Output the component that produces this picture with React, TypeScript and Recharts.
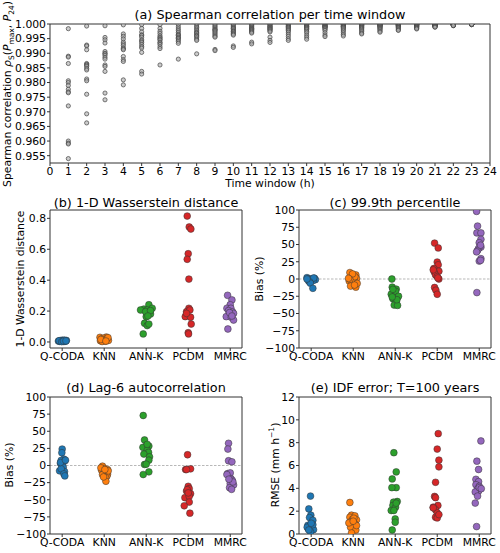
import React from 'react';
import { ScatterChart, Scatter, XAxis, YAxis, ReferenceLine } from 'recharts';

// figure: (a) spearman per time window, (b)-(e) strip plots per method
// ---------------------------------------------------------------------------

const FONT = '"DejaVu Sans", Verdana, sans-serif';
const SPINE = '#333';

/* ------------------------- (a) data ------------------------------------- */
const timeWindows = [
  1, 2, 3, 4, 5, 6, 7, 8, 9, 10, 11, 12, 13, 14, 15, 16, 17, 18, 19, 20, 21, 22, 23,
];
const hourTicks = [
  0, 1, 2, 3, 4, 5, 6, 7, 8, 9, 10, 11, 12, 13, 14, 15, 16, 17, 18, 19, 20, 21, 22, 23, 24,
];
const rhoTicks = [0.955, 0.96, 0.965, 0.97, 0.975, 0.98, 0.985, 0.99, 0.995, 1.0];

// one list per time window (one value per station)
const rhoByWindow: number[][] = [
  [0.9984, 0.989, 0.9887, 0.9865, 0.9806, 0.98, 0.979, 0.9777, 0.9768, 0.9765, 0.972, 0.96, 0.9593, 0.959, 0.954],
  [0.9993, 0.9928, 0.9925, 0.9912, 0.9865, 0.9862, 0.9859, 0.9855, 0.9848, 0.9843, 0.9812, 0.9806, 0.976, 0.9693, 0.9662],
  [0.9994, 0.9954, 0.9946, 0.9935, 0.9906, 0.99, 0.9898, 0.9893, 0.9886, 0.988, 0.986, 0.9855, 0.9838, 0.9764, 0.9741],
  [0.9997, 0.9966, 0.9958, 0.9949, 0.9938, 0.9932, 0.9926, 0.9918, 0.9915, 0.9912, 0.9889, 0.9878, 0.9872, 0.9809, 0.9792],
  [0.9998, 0.9985, 0.9973, 0.9963, 0.9961, 0.9955, 0.9946, 0.9942, 0.9937, 0.993, 0.9923, 0.9918, 0.9903, 0.9838, 0.9829],
  [0.9998, 0.9985, 0.9975, 0.9968, 0.996, 0.9955, 0.9952, 0.9948, 0.9945, 0.9938, 0.9935, 0.993, 0.9922, 0.9916, 0.986],
  [0.9998, 0.999, 0.9983, 0.9977, 0.9971, 0.9965, 0.9962, 0.996, 0.9955, 0.9952, 0.995, 0.9945, 0.994, 0.9934, 0.988],
  [0.9999, 0.9993, 0.9988, 0.9983, 0.9978, 0.9973, 0.997, 0.9968, 0.9963, 0.996, 0.9958, 0.9953, 0.9948, 0.9944, 0.9898],
  [0.9999, 0.9994, 0.999, 0.9986, 0.9982, 0.998, 0.9978, 0.9974, 0.997, 0.9966, 0.9962, 0.9958, 0.9955, 0.9913, 0.9909],
  [0.9999, 0.9995, 0.9991, 0.9988, 0.9985, 0.9984, 0.998, 0.9976, 0.9975, 0.9972, 0.9968, 0.9965, 0.9962, 0.9925, 0.992],
  [0.9999, 0.9996, 0.9993, 0.999, 0.9987, 0.9985, 0.9984, 0.9981, 0.998, 0.9978, 0.9975, 0.9972, 0.9969, 0.9938, 0.9932],
  [0.9999, 0.9997, 0.9994, 0.9991, 0.999, 0.9988, 0.9985, 0.9983, 0.9982, 0.9979, 0.9976, 0.9973, 0.9955, 0.9944, 0.9937],
  [1.0, 0.9998, 0.9995, 0.9992, 0.999, 0.9989, 0.9986, 0.9983, 0.998, 0.9977, 0.9972, 0.9965, 0.9958, 0.995, 0.9944],
  [1.0, 0.9998, 0.9996, 0.9993, 0.9991, 0.999, 0.9988, 0.9985, 0.9983, 0.998, 0.9975, 0.997, 0.9962, 0.9955, 0.9948],
  [1.0, 0.9998, 0.9996, 0.9994, 0.9993, 0.9992, 0.999, 0.9989, 0.9988, 0.9985, 0.9982, 0.9978, 0.997, 0.9962, 0.9957],
  [1.0, 0.9999, 0.9997, 0.9995, 0.9993, 0.9992, 0.9991, 0.9989, 0.9987, 0.9984, 0.998, 0.9976, 0.997, 0.9964, 0.9959],
  [1.0, 0.9999, 0.9997, 0.9995, 0.9994, 0.9993, 0.9991, 0.9989, 0.9987, 0.9985, 0.9982, 0.9978, 0.9974, 0.9969, 0.9966],
  [1.0, 0.9999, 0.9998, 0.9996, 0.9995, 0.9994, 0.9993, 0.9991, 0.9989, 0.9987, 0.9985, 0.9982, 0.9979, 0.9975, 0.9972],
  [1.0, 0.9999, 0.9998, 0.9997, 0.9996, 0.9995, 0.9994, 0.9993, 0.9992, 0.999, 0.9988, 0.9986, 0.9983, 0.998, 0.9978],
  [1.0, 0.9999, 0.9999, 0.9998, 0.9997, 0.9996, 0.9995, 0.9994, 0.9993, 0.9992, 0.9991, 0.9989, 0.9987, 0.9985, 0.9983],
  [1.0, 1.0, 0.9999, 0.9999, 0.9998, 0.9998, 0.9997, 0.9996, 0.9995, 0.9994, 0.9993, 0.9992, 0.9991, 0.999, 0.9989],
  [1.0, 1.0, 1.0, 0.9999, 0.9999, 0.9999, 0.9998, 0.9998, 0.9997, 0.9997, 0.9996, 0.9996, 0.9995, 0.9995, 0.9994],
  [1.0, 1.0, 1.0, 1.0, 1.0, 1.0, 0.9999, 0.9999, 0.9999, 0.9999, 0.9999, 0.9998, 0.9998, 0.9998, 0.9998],
];

/* ------------------------- (b)-(e) data --------------------------------- */
const methods = ['Q-CODA', 'KNN', 'ANN-K', 'PCDM', 'MMRC'];
const methodColors = ['#1f77b4', '#ff7f0e', '#2ca02c', '#d62728', '#9467bd'];
const methodTicks = [0, 1, 2, 3, 4];

// each point: [strip jitter, value]
type Pt = [number, number];

const wasserstein: Pt[][] = [
  [[-0.09, 0.006], [-0.06, 0.004], [-0.04, 0.009], [-0.02, 0.005], [0, 0.011], [0.02, 0.007], [0.04, 0.003], [0.06, 0.008], [0.08, 0.005], [0.1, 0.01], [-0.07, 0.008], [0.05, 0.012], [-0.01, 0.002], [0.03, 0.006], [0.09, 0.007]],
  [[-0.1, 0.03], [0.05, 0.032], [-0.06, 0.02], [0.08, 0.018], [0, 0.025], [-0.09, 0.008], [0.1, 0.01], [0.03, 0.005], [-0.03, 0.012], [0.06, 0.022], [-0.05, 0.003], [0.02, 0.015], [0.09, 0.028], [-0.08, 0.016], [0.04, 0.006]],
  [[0.063, 0.241], [-0.056, 0.213], [0.024, 0.207], [0.143, 0.218], [0.079, 0.194], [0, 0.164], [0.103, 0.181], [-0.04, 0.121], [0.024, 0.106], [0.063, 0.116], [-0.071, 0.052], [-0.135, 0.207], [-0.016, 0.196], [0.103, 0.203], [0.04, 0.168]],
  [[-0.024, 0.815], [0.024, 0.744], [0.063, 0.731], [0, 0.571], [-0.024, 0.535], [0.016, 0.407], [0.016, 0.218], [-0.04, 0.196], [0.04, 0.207], [-0.071, 0.164], [0.056, 0.16], [0.071, 0.116], [0, 0.06], [0.008, 0.052], [-0.04, 0.185]],
  [[-0.063, 0.302], [0.04, 0.272], [0, 0.241], [-0.079, 0.218], [0.016, 0.218], [-0.04, 0.203], [0.056, 0.194], [-0.024, 0.175], [0.079, 0.185], [-0.095, 0.164], [0.024, 0.16], [0.079, 0.142], [-0.056, 0.084], [-0.016, 0.19], [0.04, 0.168]],
];

const p999Bias: Pt[][] = [
  [[-0.1, 2], [0.08, 1], [-0.05, 0.5], [0.02, 0], [-0.08, -0.5], [0.1, -1], [-0.02, -1.5], [0.05, -2], [-0.06, -3], [0, -1], [0.06, 1.5], [-0.04, -4], [-0.02, -6], [0.04, -13.5], [-0.1, 0]],
  [[-0.079, 9.3], [0.063, 5.9], [-0.04, 2.5], [0.079, 1], [0.016, -1.5], [-0.095, -3], [0, -5.4], [-0.063, -10.3], [0.063, -11.8], [0.04, 3.4], [-0.016, 7.4], [-0.079, -0.5], [0.095, -6.4], [-0.111, 1], [0.032, -8.8]],
  [[-0.079, 0], [-0.071, -11.8], [0.024, -14.7], [-0.095, -22], [0, -24], [0.048, -27], [-0.056, -28.5], [0.024, -32.4], [-0.024, -37.8], [0.056, -38.3], [0.008, -17.7], [0.079, -25], [-0.056, -15], [0.04, -30], [-0.071, -26]],
  [[-0.063, 52], [0.024, 45], [0, 24.6], [0.024, 20.6], [-0.079, 15.2], [0.04, 11.3], [-0.071, 10.3], [-0.04, 5.9], [0, 3.4], [0.04, 0], [-0.063, -12.3], [-0.032, -16.2], [0, -22.1], [-0.095, 13.3], [0.016, 1.5]],
  [[-0.063, 98], [-0.04, 76.7], [-0.056, 66.8], [0.04, 66.8], [0.04, 57.5], [0, 52.6], [0.04, 46.2], [-0.016, 44.2], [-0.04, 41.3], [-0.063, 39.3], [0.04, 29.5], [0, 26], [0.032, 27], [-0.056, -19.7], [0.032, 49]],
];

const lag6Bias: Pt[][] = [
  [[0, 24], [-0.008, 18.6], [0.04, 9.3], [-0.024, 7.4], [0.056, 6.4], [-0.04, 2.9], [0, 0], [0.024, -2.5], [-0.063, -7.8], [0.056, -8.8], [-0.024, -4.9], [0.04, -12.3], [0.063, -15.2], [-0.04, 4.4], [0.079, 7.8]],
  [[-0.04, -1], [0, -4.4], [0.079, -5.9], [-0.063, -6.9], [0.04, -8.3], [0, -10.8], [0.079, -12.7], [-0.04, -13.2], [0.063, -15.7], [0.032, -17.6], [0.04, -23], [-0.079, -3.4], [0.095, -7.8], [-0.016, -16.7], [0.016, -5.9]],
  [[-0.071, 73], [-0.04, 37.3], [0, 28.4], [0.063, 28.4], [-0.079, 26.5], [0.024, 22.5], [0.056, 19.1], [-0.056, 16.7], [0.079, 12.7], [0.063, 7.8], [-0.04, 1.5], [0, 2], [0.063, -9.3], [-0.071, -13.2], [0.024, 30.9]],
  [[-0.016, 15.7], [-0.063, -5.9], [0.056, -4.9], [0, -30.4], [0.024, -33.8], [-0.04, -37.3], [0.056, -41.2], [-0.079, -47], [0.024, -45], [0.024, -53.4], [-0.095, -58.8], [0.04, -69.6], [-0.024, -35.3], [-0.04, -5.9], [0, -40]],
  [[-0.04, 32.4], [-0.056, 24], [-0.04, 6.9], [0.04, 5.4], [-0.063, -11.8], [0, -10.8], [0.016, -19.1], [0.048, -21.6], [0, -26.5], [0.079, -28.4], [-0.016, -32.4], [0.032, -34.8], [-0.079, -13.2], [0.063, -24], [-0.032, -20]],
];

const idfRmse: Pt[][] = [
  [[-0.016, 3.32], [-0.056, 2.2], [-0.008, 1.65], [-0.04, 1.44], [0.04, 1.2], [-0.079, 0.76], [-0.04, 0.68], [0.008, 0.59], [-0.071, 0.47], [0.056, 0.38], [-0.016, 0.2], [-0.095, 0.59], [0.04, 0.82], [-0.056, 0.35], [0, 0.94]],
  [[-0.079, 2.76], [-0.04, 1.65], [0.04, 1.59], [-0.079, 1.47], [0.079, 1.24], [-0.016, 1.29], [-0.056, 1.09], [0.04, 0.88], [-0.063, 0.59], [0.063, 0.35], [-0.04, 0.09], [0.016, 1.38], [-0.103, 0.97], [0.079, 0.74], [0, 1.12]],
  [[-0.032, 7.12], [0.024, 5.44], [-0.071, 4.82], [0.024, 4.06], [-0.079, 4.06], [0.048, 2.85], [-0.04, 2.79], [-0.056, 2.5], [0.008, 2.35], [-0.095, 2.06], [0, 1.32], [0, 1.03], [-0.071, 0.35], [-0.032, 2.06], [0.024, 2.7]],
  [[0.024, 8.79], [0, 7.44], [0.04, 6.47], [0.04, 5.88], [-0.04, 4.53], [-0.063, 3.29], [-0.04, 3.18], [0.016, 2.5], [-0.095, 2.35], [-0.04, 2.12], [0, 1.85], [-0.04, 1.47], [0, 1.41], [-0.095, 2.29], [0.04, 1.7]],
  [[0.04, 8.15], [-0.056, 6.38], [-0.016, 5.65], [-0.079, 4.79], [-0.016, 4.59], [-0.079, 4.32], [0, 4.18], [-0.04, 3.94], [-0.016, 3.76], [-0.095, 3.68], [-0.04, 3.32], [-0.095, 2.71], [-0.063, 0.65], [0, 4.06], [0.048, 3.97]],
];

const wassTicks = [0, 0.2, 0.4, 0.6, 0.8];
const biasTicks = [-100, -75, -50, -25, 0, 25, 50, 75, 100];
const rmseTicks = [0, 2, 4, 6, 8, 10, 12];

/* ------------------------- helpers -------------------------------------- */
const tickStyle = { fontSize: 10.8, fill: '#000', fontFamily: FONT };
const minus = (v: number) => (v < 0 ? '\u2212' + Math.abs(v) : String(v));

const Title = ({ cx, cy, children }: any) => (
  <div
    style={{
      position: 'absolute',
      left: cx - 150,
      top: cy - 8,
      width: 300,
      height: 16,
      lineHeight: '16px',
      textAlign: 'center',
      fontSize: 12.8,
      whiteSpace: 'nowrap',
    }}
  >
    {children}
  </div>
);

const VLabel = ({ cx, cy, children }: any) => (
  <div
    style={{
      position: 'absolute',
      left: cx,
      top: cy,
      fontSize: 10.8,
      lineHeight: '12px',
      whiteSpace: 'nowrap',
      transform: 'translate(-50%, -50%) rotate(-90deg)',
    }}
  >
    {children}
  </div>
);

const dot = (r: number, fill: string, stroke: string, sw: number, fo = 1) =>
  (p: any) => (
    <circle cx={p.cx} cy={p.cy} r={r} fill={fill} fillOpacity={fo} stroke={stroke} strokeWidth={sw} />
  );

/* ------------------------- strip panel ---------------------------------- */
interface StripProps {
  left: number;
  top: number;
  width: number;
  height: number;
  yWidth: number;
  mTop: number;
  xHeight: number;
  domain: [number, number];
  ticks: number[];
  fmt: (v: number) => string;
  groups: Pt[][];
  zeroLine?: boolean;
}

const StripPanel = ({ left, top, width, height, yWidth, mTop, xHeight, domain, ticks, fmt, groups, zeroLine }: StripProps) => {
  const xDom: [number, number] = [-0.29, 4.28];
  return (
    <div style={{ position: 'absolute', left, top }}>
      <ScatterChart width={width} height={height} margin={{ top: mTop, right: width - yWidth - 192, left: 0, bottom: 0 }}>
        <XAxis
          type="number"
          dataKey="x"
          domain={xDom}
          allowDataOverflow
          ticks={methodTicks}
          interval={0}
          tickFormatter={(v: number) => methods[v] ?? ''}
          height={xHeight}
          tickSize={3}
          tickMargin={1}
          tick={tickStyle}
          stroke={SPINE}
        />
        <YAxis
          type="number"
          dataKey="y"
          domain={domain}
          allowDataOverflow
          ticks={ticks}
          interval={0}
          tickFormatter={fmt}
          width={yWidth}
          tickSize={3}
          tickMargin={1}
          tick={tickStyle}
          stroke={SPINE}
        />
        {zeroLine && <ReferenceLine y={0} stroke="#999" strokeWidth={0.7} strokeDasharray="2.5 1.5" />}
        <ReferenceLine x={xDom[1]} stroke={SPINE} />
        <ReferenceLine y={domain[1]} stroke={SPINE} />
        {groups.map((g, i) => (
          <Scatter
            key={methods[i]}
            data={g.map(([dx, v]) => ({ x: i + dx, y: v }))}
            isAnimationActive={false}
            shape={dot(3.4, methodColors[i], '#333', 0.5)}
          />
        ))}
      </ScatterChart>
    </div>
  );
};

/* ------------------------- app ------------------------------------------ */
export default function App() {
  const rhoPoints = timeWindows.flatMap((w, i) => rhoByWindow[i].map((r) => ({ x: w, y: r })));

  return (
    <div
      style={{
        position: 'absolute',
        left: 0,
        top: 0,
        width: 500,
        height: 553,
        background: '#fff',
        fontFamily: FONT,
        color: '#000',
        overflow: 'hidden',
      }}
    >
      {/* (a) */}
      <div style={{ position: 'absolute', left: 0, top: 0 }}>
        <ScatterChart width={500} height={190} margin={{ top: 24, right: 10, left: 0, bottom: 0 }}>
          <XAxis
            type="number"
            dataKey="x"
            domain={[0, 24]}
            allowDataOverflow
            ticks={hourTicks}
            interval={0}
            height={27}
            tickSize={3}
            tickMargin={1}
            tick={tickStyle}
            stroke={SPINE}
          />
          <YAxis
            type="number"
            dataKey="y"
            domain={[0.9525, 1.0]}
            allowDataOverflow
            ticks={rhoTicks}
            interval={0}
            tickFormatter={(v: number) => v.toFixed(3)}
            width={50}
            tickSize={3}
            tickMargin={1}
            tick={tickStyle}
            stroke={SPINE}
          />
          <ReferenceLine x={24} stroke={SPINE} />
          <ReferenceLine y={1.0} stroke={SPINE} />
          <Scatter
            data={rhoPoints}
            isAnimationActive={false}
            shape={dot(2.1, '#aaa', '#444', 0.7, 0.6)}
          />
        </ScatterChart>
      </div>
      <Title cx={270} cy={15}>(a) Spearman correlation per time window</Title>
      <div style={{ position: 'absolute', left: 170, top: 177, width: 200, textAlign: 'center', fontSize: 10.8 }}>
        Time window (h)
      </div>
      <VLabel cx={10} cy={94}>
        Spearman correlation <i>ρ</i>
        <sub style={{ fontSize: 7.5 }}>S</sub>(<i>P</i>
        <sub style={{ fontSize: 7.5 }}>max</sub>, <i>P</i>
        <sub style={{ fontSize: 7.5 }}>24</sub>)
      </VLabel>

      {/* (b) */}
      <StripPanel left={0} top={195} width={250} height={175} yWidth={50} mTop={15} xHeight={22}
        domain={[-0.039, 0.854]} ticks={wassTicks} fmt={(v) => v.toFixed(1)} groups={wasserstein} />
      <Title cx={146} cy={203}>(b) 1-D Wasserstein distance</Title>
      <VLabel cx={21} cy={279}>1-D Wasserstein distance</VLabel>

      {/* (c) */}
      <StripPanel left={250} top={195} width={250} height={175} yWidth={49} mTop={15} xHeight={22}
        domain={[-100, 100]} ticks={biasTicks} fmt={minus} groups={p999Bias} zeroLine />
      <Title cx={395} cy={203}>(c) 99.9th percentile</Title>
      <VLabel cx={260} cy={279}>Bias (%)</VLabel>

      {/* (d) */}
      <StripPanel left={0} top={380} width={250} height={173} yWidth={50} mTop={17} xHeight={19}
        domain={[-100, 100]} ticks={biasTicks} fmt={minus} groups={lag6Bias} zeroLine />
      <Title cx={146} cy={388}>(d) Lag-6 autocorrelation</Title>
      <VLabel cx={10} cy={465}>Bias (%)</VLabel>

      {/* (e) */}
      <StripPanel left={250} top={380} width={250} height={173} yWidth={49} mTop={17} xHeight={19}
        domain={[0, 12]} ticks={rmseTicks} fmt={(v) => String(v)} groups={idfRmse} />
      <Title cx={395} cy={388}>(e) IDF error; T=100 years</Title>
      <VLabel cx={274} cy={465}>
        RMSE (mm h<sup style={{ fontSize: 7.5 }}>−1</sup>)
      </VLabel>
    </div>
  );
}
